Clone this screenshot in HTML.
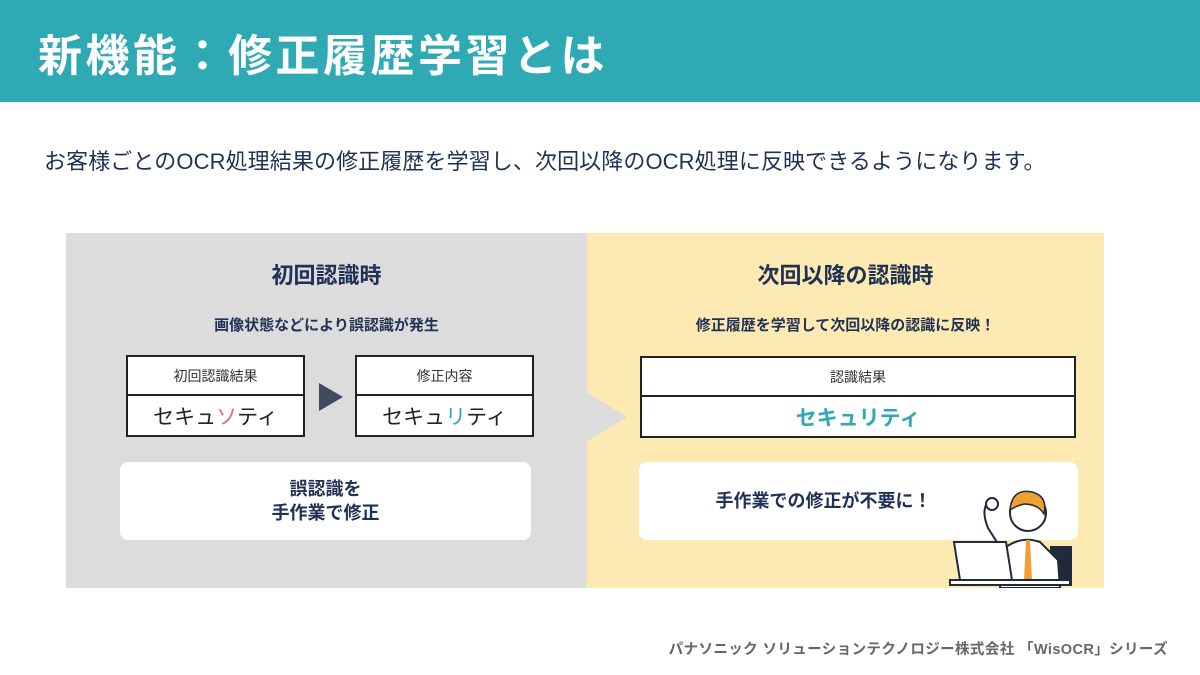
<!DOCTYPE html>
<html><head><meta charset="utf-8"><style>
*{margin:0;padding:0;box-sizing:border-box}
body{width:1200px;height:675px;background:#fff;position:relative;overflow:hidden;font-family:"Liberation Sans","Noto Sans CJK JP",sans-serif;color:#1f3154}
.abs{position:absolute}
.hdr{left:0;top:0;width:1200px;height:102px;background:#2faab4}
.ttl{left:38px;top:20px;font-size:44px;font-weight:bold;color:#fff;letter-spacing:3.5px;white-space:nowrap}
.sub{left:44px;top:144px;font-size:22px;color:#1f3154;white-space:nowrap;letter-spacing:0.1px}
.gray{left:66px;top:233px;width:521px;height:355px;background:#dcdcdc}
.yel{left:587px;top:233px;width:517px;height:355px;background:#fdeab3}
.h{font-size:22px;font-weight:bold;text-align:center}
.s{font-size:15px;font-weight:bold;text-align:center}
.tb{border:2px solid #222;background:#fff}
.tb div{height:50%;display:flex;align-items:center;justify-content:center}
.tb .t{border-bottom:2px solid #222;font-size:14px;color:#333}
.tb .b{font-size:21px;color:#222}
.wb{background:#fff;border-radius:8px;display:flex;align-items:center;justify-content:center;text-align:center;font-weight:bold;font-size:18px;line-height:1.35}
.ft{right:32px;top:638px;font-size:14.5px;font-weight:bold;color:#666;letter-spacing:0.4px;white-space:nowrap}
</style></head><body>
<div class="abs hdr"></div>
<div class="abs ttl">新機能：修正履歴学習とは</div>
<div class="abs sub">お客様ごとのOCR処理結果の修正履歴を学習し、次回以降のOCR処理に反映できるようになります。</div>
<div class="abs gray"></div>
<div class="abs yel"></div>
<svg class="abs" style="left:586px;top:390px" width="44" height="54"><polygon points="0,2 41,27 0,52" fill="#dcdcdc"/></svg>
<div class="abs h" style="left:66px;top:258px;width:521px">初回認識時</div>
<div class="abs s" style="left:66px;top:314px;width:521px">画像状態などにより誤認識が発生</div>
<div class="abs tb" style="left:126px;top:355px;width:179px;height:82px"><div class="t">初回認識結果</div><div class="b">セキュ<span style="color:#e8697a">ソ</span>ティ</div></div>
<svg class="abs" style="left:319px;top:383px" width="26" height="28"><polygon points="0,0 24,14 0,28" fill="#404b60"/></svg>
<div class="abs tb" style="left:355px;top:355px;width:179px;height:82px"><div class="t">修正内容</div><div class="b">セキュ<span style="color:#2faab4">リ</span>ティ</div></div>
<div class="abs wb" style="left:120px;top:462px;width:411px;height:78px">誤認識を<br>手作業で修正</div>
<div class="abs h" style="left:587px;top:258px;width:517px">次回以降の認識時</div>
<div class="abs s" style="left:587px;top:314px;width:517px">修正履歴を学習して次回以降の認識に反映！</div>
<div class="abs tb" style="left:640px;top:356px;width:436px;height:82px"><div class="t">認識結果</div><div class="b" style="color:#2faab4;font-weight:bold">セキュリティ</div></div>
<div class="abs wb" style="left:639px;top:462px;width:439px;height:78px;padding-right:70px">手作業での修正が不要に！</div>
<svg class="abs" style="left:940px;top:480px" width="140" height="108">
<rect x="110" y="66" width="22" height="40" fill="#1f2a3a"/>
<path d="M60 108 L62 70 Q80 55 100 62 L118 80 L120 108 Z" fill="#fff" stroke="#1f2a3a" stroke-width="2"/>
<polygon points="86,60 90,60 92,100 84,100" fill="#f0a030"/>
<circle cx="88" cy="33" r="18" fill="#fff" stroke="#1f2a3a" stroke-width="2"/>
<path d="M70 30 Q72 8 92 12 Q108 16 104 34 Q98 24 84 24 Q76 26 70 30Z" fill="#f0a030" stroke="#1f2a3a" stroke-width="1.5"/>
<path d="M50 20 Q40 28 48 48 L62 70" fill="none" stroke="#1f2a3a" stroke-width="2"/>
<circle cx="52" cy="24" r="6" fill="#fff" stroke="#1f2a3a" stroke-width="2"/>
<polygon points="14,62 66,62 72,100 20,100" fill="#fff" stroke="#1f2a3a" stroke-width="2"/>
<rect x="10" y="100" width="120" height="5" fill="#fff" stroke="#1f2a3a" stroke-width="2"/>
</svg>
<div class="abs ft">パナソニック ソリューションテクノロジー株式会社 「WisOCR」シリーズ</div>
</body></html>
